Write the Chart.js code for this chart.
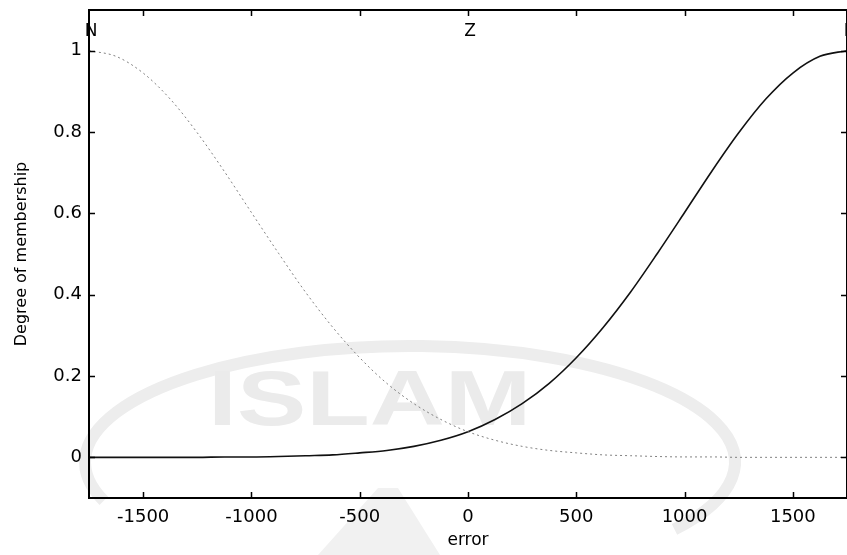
<!DOCTYPE html>
<html>
<head>
<meta charset="utf-8">
<script src="https://cdn.jsdelivr.net/npm/chart.js@4.4.1/dist/chart.umd.min.js"></script>
<style>
  html, body { margin: 0; padding: 0; background: #fff; overflow: hidden; }
  #wrap { width: 852px; height: 555px; }
</style>
</head>
<body>
<div id="wrap"><canvas id="mf" width="852" height="555"></canvas></div>
<script>
// error universe, sampled every 125
const errorPts = [-1750, -1625, -1500, -1375, -1250, -1125, -1000, -875, -750, -625,
  -500, -375, -250, -125, 0, 125, 250, 375, 500, 625, 750, 875, 1000, 1125, 1250,
  1375, 1500, 1625, 1750];

// membership of "N" (negative error)
const muN = [1.000, 0.986, 0.945, 0.881, 0.798, 0.703, 0.602, 0.502, 0.406, 0.320,
  0.245, 0.182, 0.132, 0.093, 0.063, 0.042, 0.027, 0.017, 0.011, 0.006, 0.004,
  0.002, 0.001, 0.001, 0.000, 0.000, 0.000, 0.000, 0.000];

// membership of "P" (positive error)
const muP = [0.000, 0.000, 0.000, 0.000, 0.000, 0.001, 0.001, 0.002, 0.004, 0.006,
  0.011, 0.017, 0.027, 0.042, 0.063, 0.093, 0.132, 0.182, 0.245, 0.320, 0.406,
  0.502, 0.602, 0.703, 0.798, 0.881, 0.945, 0.986, 1.000];

const xTicks = [-1500, -1000, -500, 0, 500, 1000, 1500];
const yTicks = [0, 0.2, 0.4, 0.6, 0.8, 1];

// term names and where they sit on the error axis
const mfNames = ["N", "Z", "P"];
const mfCenters = [-1750, 0, 1750];

const FONT = "'DejaVu Sans', sans-serif";

// faint university stamp, painted first so everything else sits on top
const stamp = {
  id: "stamp",
  beforeDraw(chart) {
    const ctx = chart.ctx;
    ctx.save();
    ctx.strokeStyle = "#ededed";
    ctx.lineWidth = 12;
    ctx.beginPath();
    ctx.ellipse(410, 462, 325, 116, 0, 2.8, 2 * Math.PI + 0.62);
    ctx.stroke();
    // lower part of the emblem
    ctx.fillStyle = "#f1f1f1";
    ctx.beginPath();
    ctx.moveTo(318, 555); ctx.lineTo(378, 488); ctx.lineTo(398, 488); ctx.lineTo(440, 555);
    ctx.closePath();
    ctx.fill();
    ctx.fillStyle = "#ebebeb";
    ctx.font = "bold 77px 'Liberation Sans', Arial, sans-serif";
    ctx.textBaseline = "alphabetic";
    ctx.translate(208, 425);
    ctx.scale(1.35, 1);
    ctx.fillText("ISLAM", 0, 0);
    ctx.restore();
  }
};

// box around the axes with inward tick marks
const frame = {
  id: "frame",
  afterDatasetsDraw(chart) {
    const { ctx, chartArea: a, scales } = chart;
    const len = 6;
    ctx.save();
    ctx.strokeStyle = "#000";
    ctx.lineWidth = 2;
    ctx.strokeRect(a.left, a.top, a.right - a.left, a.bottom - a.top);
    ctx.lineWidth = 1.5;
    ctx.beginPath();
    xTicks.forEach(v => {
      const x = Math.round(scales.x.getPixelForValue(v)) + 0.5;
      ctx.moveTo(x, a.bottom); ctx.lineTo(x, a.bottom - len);
      ctx.moveTo(x, a.top); ctx.lineTo(x, a.top + len);
    });
    yTicks.forEach(v => {
      const y = Math.round(scales.y.getPixelForValue(v)) + 0.5;
      ctx.moveTo(a.left, y); ctx.lineTo(a.left + len, y);
      ctx.moveTo(a.right, y); ctx.lineTo(a.right - len, y);
    });
    ctx.stroke();
    ctx.restore();
  }
};

// N / Z / P names above each peak
const mfLabels = {
  id: "mfLabels",
  afterDraw(chart) {
    const { ctx, scales } = chart;
    ctx.save();
    ctx.fillStyle = "#000";
    ctx.font = "17px " + FONT;
    ctx.textAlign = "center";
    ctx.textBaseline = "middle";
    mfNames.forEach((name, i) => {
      ctx.fillText(name, scales.x.getPixelForValue(mfCenters[i]) + 2, scales.y.getPixelForValue(1.048));
    });
    ctx.restore();
  }
};

function points(ys) {
  return errorPts.map((x, i) => ({ x: x, y: ys[i] }));
}

new Chart(document.getElementById("mf"), {
  type: "line",
  data: {
    datasets: [
      {
        label: "N",
        data: points(muN),
        borderColor: "#808080",
        borderWidth: 1,
        borderDash: [2, 3],
        pointRadius: 0,
        cubicInterpolationMode: "monotone"
      },
      {
        label: "P",
        data: points(muP),
        borderColor: "#111",
        borderWidth: 1.6,
        pointRadius: 0,
        cubicInterpolationMode: "monotone"
      }
    ]
  },
  options: {
    responsive: false,
    animation: false,
    layout: { padding: { top: 10, right: 5, left: 0, bottom: 0 } },
    plugins: {
      legend: { display: false },
      tooltip: { enabled: false }
    },
    scales: {
      x: {
        type: "linear",
        min: -1750,
        max: 1750,
        afterBuildTicks: s => { s.ticks = xTicks.map(v => ({ value: v })); },
        afterFit: s => { s.height = 57; s.paddingLeft = 0; s.paddingRight = 0; },
        grid: { display: false, drawTicks: false },
        border: { display: false },
        ticks: {
          color: "#000",
          padding: 9,
          autoSkip: false,
          maxRotation: 0,
          font: { family: FONT, size: 18 },
          callback: v => String(v)
        },
        title: { display: true, text: "error", color: "#000", font: { family: FONT, size: 17 }, padding: { top: 0, bottom: 4 } }
      },
      y: {
        type: "linear",
        min: -0.1,
        max: 1.1,
        afterBuildTicks: s => { s.ticks = yTicks.map(v => ({ value: v })); },
        afterFit: s => { s.width = 89; s.paddingTop = 0; s.paddingBottom = 0; },
        grid: { display: false, drawTicks: false },
        border: { display: false },
        ticks: {
          color: "#000",
          padding: 7,
          autoSkip: false,
          font: { family: FONT, size: 18 },
          callback: v => String(+v.toFixed(1))
        },
        title: { display: true, text: "Degree of membership", color: "#000", font: { family: FONT, size: 16 }, padding: { top: 12, bottom: 0 } }
      }
    }
  },
  plugins: [stamp, frame, mfLabels]
});
</script>
</body>
</html>
